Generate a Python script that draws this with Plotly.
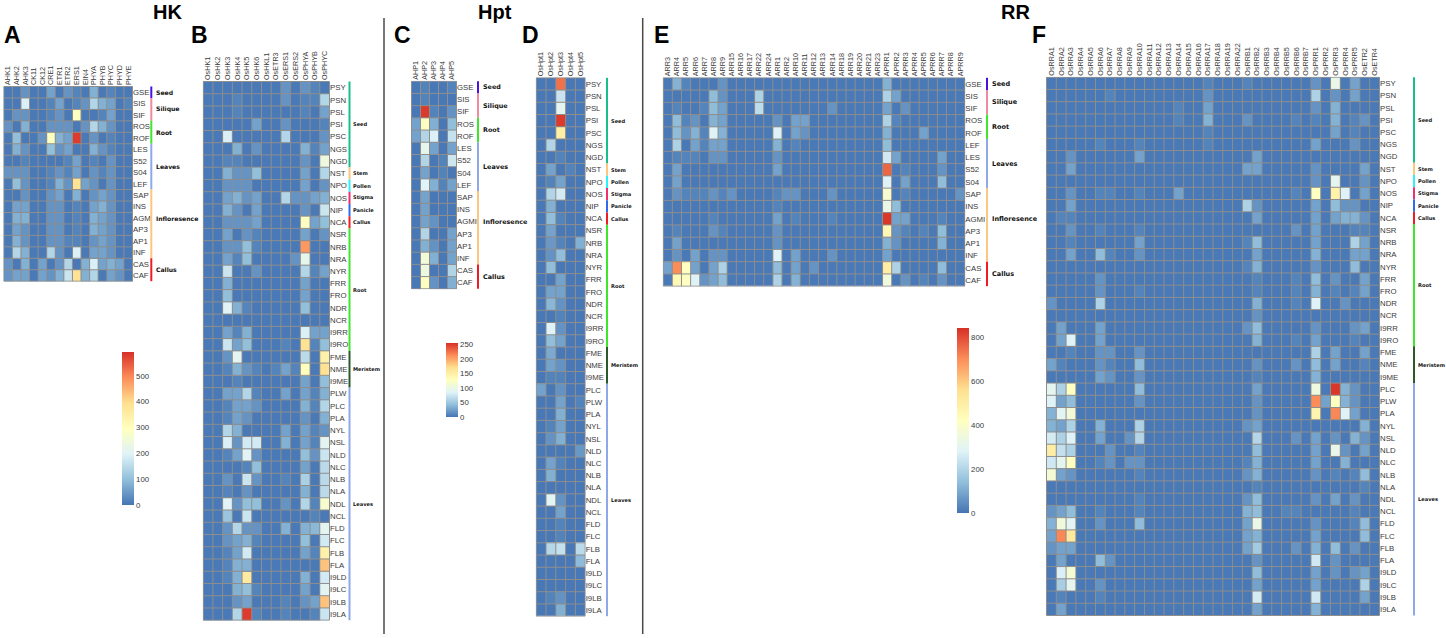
import plotly.graph_objects as go

W, H = 1446, 638

# ---------- labels ----------
TISSUE_ATH = ["GSE","SIS","SIF","ROS","ROF","LES","S52","S04","LEF","SAP","INS","AGM","AP3","AP1","INF","CAS","CAF"]
TISSUE_ATH_C = ["GSE","SIS","SIF","ROS","ROF","LES","S52","S04","LEF","SAP","INS","AGMI","AP3","AP1","INF","CAS","CAF"]
TISSUE_ATH_E = ["GSE","SIS","SIF","ROS","ROF","LEF","LES","S52","S04","SAP","INS","AGMI","AP3","AP1","INF","CAS","CAF"]
TISSUE_OS_B = ["PSY","PSN","PSL","PSI","PSC","NGS","NGD","NST","NPO","NOS","NIP","NCA","NSR","NRB","NRA","NYR","FRR","FRO","NDR","NCR","I9RR","I9RO","FME","NME","I9ME","PLW","PLC","PLA","NYL","NSL","NLD","NLC","NLB","NLA","NDL","NCL","FLD","FLC","FLB","FLA","I9LD","I9LC","I9LB","I9LA"]
TISSUE_OS_D = ["PSY","PSN","PSL","PSI","PSC","NGS","NGD","NST","NPO","NOS","NIP","NCA","NSR","NRB","NRA","NYR","FRR","FRO","NDR","NCR","I9RR","I9RO","FME","NME","I9ME","PLC","PLW","PLA","NYL","NSL","NLD","NLC","NLB","NLA","NDL","NCL","FLD","FLC","FLB","FLA","I9LD","I9LC","I9LB","I9LA"]

GENES_A = ["AHK1","AHK2","AHK3","CK11","CK12","CRE1","ETR1","ETR2","ERS1","EIN4","PHYA","PHYB","PHYC","PHYD","PHYE"]
GENES_B = ["OsHK1","OsHK2","OsHK3","OsHK4","OsHK5","OsHK6","OsHKL1","OsETR3","OsERS1","OsERS2","OsPHYA","OsPHYB","OsPHYC"]
GENES_C = ["AHP1","AHP2","AHP3","AHP4","AHP5"]
GENES_D = ["OsHpt1","OsHpt2","OsHpt3","OsHpt4","OsHpt5"]
GENES_E = ["ARR3","ARR4","ARR5","ARR6","ARR7","ARR8","ARR9","ARR15","ARR16","ARR17","ARR22","ARR24","ARR1","ARR2","ARR10","ARR11","ARR12","ARR13","ARR14","ARR18","ARR19","ARR20","ARR21","ARR23","APRR1","APRR2","APRR3","APRR4","APRR5","APRR6","APRR7","APRR8","APRR9"]
GENES_F = ["OsRRA1","OsRRA2","OsRRA3","OsRRA4","OsRRA5","OsRRA6","OsRRA7","OsRRA8","OsRRA9","OsRRA10","OsRRA11","OsRRA12","OsRRA13","OsRRA14","OsRRA15","OsRRA16","OsRRA17","OsRRA18","OsRRA19","OsRRA22","OsRRB1","OsRRB2","OsRRB3","OsRRB4","OsRRB5","OsRRB6","OsRRB7","OsPRR1","OsPRR2","OsPRR3","OsPRR4","OsPRR5","OsETR2","OsETR4"]

# ---------- values ----------
VALUES_A = [
 [5,5,40,5,5,60,5,40,20,5,80,5,20,5,5],
 [5,5,190,5,5,20,60,5,20,40,140,80,60,5,20],
 [5,40,40,5,5,20,40,5,290,5,5,20,60,5,5],
 [40,5,80,5,5,40,40,40,5,40,140,80,40,5,5],
 [5,100,5,5,40,290,80,60,580,5,40,5,20,5,5],
 [5,80,40,5,5,100,40,60,5,5,80,40,20,5,5],
 [5,5,20,5,5,5,5,20,60,5,20,5,40,5,5],
 [40,40,40,5,5,20,40,20,60,5,40,20,40,5,5],
 [5,100,40,5,5,20,80,40,385,60,40,5,40,5,5],
 [5,5,40,5,5,40,60,5,80,5,40,60,40,5,5],
 [5,60,60,5,5,40,40,5,20,5,60,80,40,5,5],
 [5,80,80,5,5,40,40,5,20,5,80,60,40,5,5],
 [5,60,40,5,5,40,40,5,20,5,80,60,40,5,5],
 [5,80,40,5,5,40,40,20,20,5,40,60,40,5,5],
 [5,140,80,5,5,140,40,5,190,5,60,60,40,5,5],
 [40,5,80,5,60,5,40,140,5,80,190,60,80,60,5],
 [40,60,60,5,60,40,80,170,385,80,140,5,60,40,5],
]
VALUES_B = [
 [5,5,5,5,5,5,5,5,40,5,40,20,5],
 [5,5,5,20,5,5,5,5,40,5,20,20,140],
 [5,5,5,20,5,5,5,5,5,5,20,5,60],
 [5,5,5,5,5,60,5,5,40,5,5,5,20],
 [5,5,190,5,5,5,5,5,140,5,5,5,40],
 [5,5,5,80,5,40,5,5,5,5,80,20,60],
 [5,5,20,20,5,5,5,5,5,5,40,5,240],
 [5,5,80,40,40,100,5,5,5,5,60,5,140],
 [5,5,40,40,40,5,5,5,5,5,60,5,40],
 [5,5,60,80,40,60,5,5,140,40,40,60,80],
 [5,5,80,40,5,60,5,5,5,5,40,5,170],
 [5,5,40,40,40,60,5,5,5,5,290,60,100],
 [5,5,60,5,40,20,5,5,5,5,60,5,40],
 [5,5,40,40,100,20,5,5,5,5,480,5,5],
 [5,5,60,20,100,5,5,5,5,40,220,5,5],
 [5,5,170,5,5,40,5,5,5,5,140,20,60],
 [5,5,80,5,5,5,5,5,5,5,60,5,5],
 [5,5,100,5,5,5,5,5,5,5,60,5,5],
 [5,5,200,80,20,5,5,5,5,5,100,5,5],
 [5,5,5,5,5,5,5,5,5,5,5,5,5],
 [5,5,60,20,80,5,5,5,5,5,190,60,60],
 [5,5,170,60,100,5,5,5,20,5,385,20,100],
 [5,5,40,210,5,5,5,5,5,5,150,5,340],
 [5,5,20,80,40,20,5,20,60,20,300,5,385],
 [5,5,5,20,5,5,5,5,5,5,60,5,100],
 [5,5,60,60,140,20,5,5,60,5,60,20,80],
 [5,5,20,60,60,40,5,5,5,5,80,20,140],
 [5,5,20,60,40,5,5,5,5,5,40,5,80],
 [5,5,140,80,5,5,5,5,60,5,60,20,40],
 [5,5,190,40,180,180,5,5,80,5,60,20,210],
 [5,5,20,60,200,40,5,5,5,5,100,40,170],
 [5,5,5,5,20,100,5,5,5,5,60,5,150],
 [5,5,40,5,170,40,5,5,20,5,130,5,150],
 [5,5,20,5,40,5,5,5,5,5,80,5,150],
 [5,5,200,40,100,100,5,5,40,5,140,20,270],
 [5,5,110,5,170,5,5,5,5,5,5,20,5],
 [5,5,40,140,40,40,5,5,80,5,80,90,210],
 [5,5,40,60,80,20,5,5,5,5,100,5,180],
 [5,5,20,60,180,5,5,5,5,5,60,20,340],
 [5,5,20,80,80,5,5,5,5,5,5,5,430],
 [5,5,20,80,360,5,5,5,5,5,80,5,180],
 [5,5,5,80,100,20,5,5,5,5,60,5,210],
 [5,5,5,40,60,5,5,5,20,5,40,60,430],
 [5,5,5,140,580,20,5,5,20,5,5,20,170],
]
VALUES_C = [
 [2,8,2,2,8],
 [2,8,2,2,2],
 [2,250,8,2,17],
 [26,125,34,2,42],
 [26,60,83,2,70],
 [2,95,26,2,26],
 [2,60,2,8,75],
 [2,26,2,8,2],
 [2,85,34,8,26],
 [2,26,2,2,2],
 [2,26,2,2,2],
 [2,26,17,2,2],
 [2,60,2,2,26],
 [2,34,17,2,26],
 [2,110,34,2,26],
 [2,104,2,2,60],
 [2,125,17,2,34],
]
VALUES_D = [
 [2,2,225,2,2],
 [2,2,72,2,2],
 [2,2,90,2,2],
 [2,2,250,2,2],
 [2,2,150,2,2],
 [2,60,2,2,2],
 [2,2,8,2,2],
 [2,26,2,8,2],
 [2,8,26,2,2],
 [2,60,78,2,2],
 [2,34,2,2,2],
 [2,42,8,2,2],
 [2,26,2,2,2],
 [2,20,8,2,34],
 [2,17,42,2,2],
 [2,42,2,2,2],
 [2,2,26,2,2],
 [2,26,26,2,2],
 [2,38,17,2,2],
 [2,2,8,2,2],
 [2,85,17,2,2],
 [2,42,26,2,2],
 [2,30,2,2,2],
 [2,26,17,2,2],
 [2,8,8,2,2],
 [26,2,17,2,2],
 [2,2,26,2,8],
 [2,2,34,2,2],
 [2,8,26,2,2],
 [2,17,34,2,2],
 [2,2,2,2,20],
 [2,26,8,2,2],
 [2,34,2,2,2],
 [2,2,2,2,2],
 [2,88,17,2,2],
 [2,2,26,2,2],
 [2,2,8,2,2],
 [2,2,8,2,2],
 [2,62,70,2,65],
 [2,2,2,2,40],
 [2,2,2,2,2],
 [2,2,2,2,2],
 [2,8,17,2,2],
 [2,2,34,2,2],
]
VALUES_E = [
 [7,115,28,7,7,7,57,7,7,7,7,7, 7,7,7,7,7,7,7,7,7,7,7,7, 115,7,7,7,7,7,7,7,7],
 [7,7,7,7,7,138,57,7,7,7,190,7, 7,7,7,7,7,7,7,7,7,7,7,7, 190,85,7,7,7,7,7,7,7],
 [7,28,7,7,28,138,85,7,7,7,220,7, 7,7,7,7,7,7,57,7,7,7,7,7, 85,7,57,7,7,7,7,7,7],
 [7,138,28,57,7,115,85,7,7,7,7,7, 57,7,85,85,7,7,7,7,7,7,7,7, 190,28,7,7,7,7,7,7,7],
 [7,138,57,115,28,277,115,7,7,7,7,7, 277,7,85,57,7,7,7,7,7,7,7,7, 115,7,7,7,85,7,7,7,7],
 [7,190,7,85,28,85,85,7,7,7,7,7, 115,7,28,7,7,7,7,7,7,7,7,7, 138,7,7,7,7,7,7,7,7],
 [7,28,28,28,7,57,57,7,7,7,7,7, 57,7,7,7,7,7,7,7,7,7,7,7, 250,85,7,7,7,7,85,7,7],
 [7,85,7,7,7,7,7,7,7,7,7,7, 85,7,7,7,7,7,7,7,7,7,7,7, 760,7,28,7,7,7,57,7,7],
 [7,85,7,7,7,7,7,7,7,7,7,7, 7,7,7,7,7,7,7,7,7,7,7,7, 277,7,85,7,7,7,138,7,7],
 [7,57,28,28,28,57,28,57,7,7,7,7, 28,57,57,7,7,7,57,7,7,7,7,7, 380,7,28,7,7,7,7,7,57],
 [7,7,7,7,7,7,7,7,7,7,7,7, 28,7,7,7,7,7,7,7,7,7,7,7, 320,138,7,7,7,7,7,7,7],
 [7,7,7,7,7,28,7,7,7,7,7,7, 85,7,28,7,7,7,28,7,7,7,7,7, 830,85,85,7,7,7,28,7,7],
 [7,28,7,7,7,57,28,7,7,7,7,7, 57,7,7,7,7,7,7,7,7,7,7,7, 450,57,28,7,28,7,138,7,7],
 [7,85,7,7,7,7,7,7,7,7,7,7, 57,7,7,7,7,7,7,7,7,7,7,7, 115,57,7,7,7,7,115,7,7],
 [7,57,7,85,7,57,57,7,7,7,7,7, 277,7,85,7,7,7,57,7,7,7,7,7, 85,7,7,7,7,7,7,7,7],
 [85,700,415,85,7,85,190,7,7,7,7,7, 138,7,85,7,57,7,7,7,7,7,7,7, 500,190,7,7,7,7,138,7,7],
 [7,450,415,277,57,85,138,7,7,7,7,7, 190,7,115,7,7,7,7,7,7,7,7,7, 345,7,57,7,28,7,57,7,7],
]
VALUES_F = [
 [7,7,7,7,7,7,7,7,7,7, 7,7,7,7,7,7,28,7,7,7, 28,7,7,7,7,7,7, 57,7,320,7,85,7,7],
 [7,7,7,7,7,7,28,7,7,7, 7,7,7,7,7,7,57,7,7,7, 7,7,7,7,7,7,7, 190,7,57,7,85,7,7],
 [7,7,7,7,7,7,7,7,7,7, 7,7,7,28,7,7,85,7,7,7, 7,7,7,7,7,7,7, 57,7,115,7,7,7,7],
 [7,7,7,7,7,7,7,7,7,7, 7,7,7,28,7,7,115,7,7,7, 57,7,7,7,7,28,7, 28,7,115,7,28,57,7],
 [7,7,7,7,7,7,7,7,7,7, 7,7,7,7,7,7,28,7,7,7, 7,7,7,7,7,7,7, 7,7,85,7,28,7,7],
 [7,7,7,7,7,28,7,7,7,28, 7,7,7,7,7,7,28,7,7,7, 7,7,7,7,7,7,7, 85,7,7,7,57,7,7],
 [7,7,57,7,7,7,7,7,7,85, 7,7,7,7,7,7,7,7,7,7, 7,85,7,7,7,7,7, 7,7,7,7,7,7,7],
 [7,7,85,7,7,7,7,7,7,7, 7,7,7,7,7,7,7,7,7,7, 85,85,7,7,7,7,7, 57,7,7,7,7,85,7],
 [7,7,7,7,7,7,7,7,7,7, 7,7,7,7,7,7,7,7,7,7, 7,7,7,7,7,7,7, 57,7,300,7,7,57,7],
 [7,7,57,7,7,28,28,7,7,28, 7,7,7,85,7,7,7,7,7,7, 7,7,7,7,7,28,7, 415,7,480,277,7,85,7],
 [7,7,85,7,7,7,7,7,7,7, 7,7,7,7,7,7,7,7,7,7, 190,57,7,7,7,7,7, 85,7,138,57,57,7,7],
 [7,28,28,7,7,7,7,7,7,7, 7,7,7,7,7,7,7,7,7,7, 7,85,7,7,7,7,7, 85,7,85,115,115,57,7],
 [7,7,57,7,7,28,7,7,7,28, 7,7,7,7,7,7,7,7,7,7, 7,7,7,7,7,57,7, 85,7,7,7,28,28,7],
 [7,7,28,7,7,7,7,7,7,85, 7,7,7,7,7,7,7,7,7,7, 28,138,7,7,7,7,7, 85,7,7,7,190,85,7],
 [7,7,85,7,7,138,28,7,7,57, 7,7,7,7,7,7,7,7,7,7, 7,85,7,7,7,7,7, 115,7,7,7,85,85,7],
 [7,7,7,7,7,7,7,7,7,7, 7,7,7,7,7,7,7,7,7,7, 28,115,7,7,7,7,7, 57,7,7,7,138,7,7],
 [7,7,7,7,7,57,7,7,7,7, 7,7,7,7,7,7,7,7,7,7, 7,28,7,7,7,28,7, 138,7,57,7,7,85,7],
 [7,7,7,7,7,57,7,7,7,28, 7,7,7,7,7,7,7,7,7,7, 7,28,7,7,7,28,7, 115,7,28,7,28,85,7],
 [57,7,7,7,7,190,7,7,7,7, 7,7,7,7,7,7,7,7,7,7, 7,115,7,7,7,28,7, 277,7,7,57,7,7,7],
 [7,7,7,7,7,7,7,7,7,7, 7,7,7,7,7,7,7,7,7,7, 7,57,7,7,7,7,7, 7,7,7,7,7,7,7],
 [7,85,7,7,7,85,7,7,7,7, 7,7,7,7,7,7,7,7,7,7, 57,138,7,7,7,7,7, 57,7,7,7,57,85,7],
 [7,85,277,7,7,85,7,7,7,7, 7,7,7,7,7,7,7,7,7,7, 7,115,7,7,7,28,7, 85,7,7,7,28,7,7],
 [7,7,28,7,7,57,57,7,7,57, 7,7,7,7,7,7,7,7,7,7, 7,7,7,7,7,7,7, 190,7,85,7,7,85,7],
 [85,28,7,7,7,57,28,7,7,138, 7,7,7,7,7,7,7,7,7,7, 7,57,7,7,7,57,7, 138,7,85,7,7,28,7],
 [7,7,7,7,7,85,57,7,7,57, 7,7,7,7,7,7,7,7,7,7, 7,28,7,7,7,7,7, 115,7,7,7,7,7,7],
 [300,190,415,7,7,7,7,7,7,138, 7,7,7,7,7,7,7,7,7,7, 7,85,7,7,7,7,7, 345,7,830,115,57,7,7],
 [277,85,138,7,7,7,7,7,7,57, 7,7,7,7,7,7,7,7,7,7, 7,57,7,7,7,7,7, 700,85,415,115,57,7,7],
 [115,290,360,7,7,7,7,7,7,7, 7,7,7,7,7,7,7,7,7,7, 7,57,7,7,7,7,7, 470,7,710,277,85,7,7],
 [115,85,190,7,7,115,7,7,7,190, 7,7,7,7,7,7,7,7,7,7, 57,85,7,7,7,7,7, 7,7,7,7,7,115,7],
 [260,190,277,7,7,85,7,7,57,200, 7,7,7,7,7,7,7,7,7,7, 7,200,7,7,7,57,7, 85,7,57,7,115,57,7],
 [500,230,190,7,7,7,57,7,7,28, 7,7,7,7,7,7,7,7,7,7, 7,138,7,7,7,7,7, 85,7,320,57,7,85,7],
 [250,300,415,7,7,28,57,7,57,57, 7,7,7,7,7,7,7,7,7,7, 28,115,7,7,7,7,7, 85,7,7,115,7,7,7],
 [370,85,57,7,7,7,7,7,7,28, 7,7,7,7,7,7,7,7,7,7, 57,115,7,7,7,7,7, 57,7,28,7,28,138,7],
 [7,7,7,7,7,7,7,7,7,7, 7,7,7,7,7,7,7,7,7,7, 7,28,7,7,7,7,7, 7,7,7,7,7,28,7],
 [7,7,7,7,7,7,7,7,7,28, 7,7,7,7,7,7,7,7,7,7, 57,138,7,7,7,7,7, 57,7,85,7,57,7,7],
 [57,85,138,7,7,28,7,7,7,28, 7,7,7,7,7,7,7,7,7,7, 115,138,7,7,28,28,7, 7,7,7,7,28,7,7],
 [115,350,290,7,7,57,7,7,7,138, 7,7,7,7,7,7,7,7,7,7, 85,320,7,7,7,7,7, 57,7,7,7,28,138,7],
 [85,710,520,7,7,7,7,7,7,7, 7,7,7,7,7,7,7,7,7,7, 85,115,7,7,7,7,7, 85,7,7,7,7,138,7],
 [57,85,85,7,7,7,7,7,7,7, 7,7,7,7,7,7,7,7,7,7, 85,170,7,7,7,57,7, 115,7,138,7,57,7,7],
 [7,85,7,7,7,138,57,7,7,7, 7,7,7,7,7,7,7,7,7,7, 7,57,7,7,7,7,7, 250,7,57,7,7,7,7],
 [7,270,370,7,7,7,7,7,7,7, 7,7,7,7,7,7,7,7,7,7, 7,138,7,7,7,7,7, 85,7,57,7,57,85,7],
 [7,180,300,7,7,57,7,7,7,7, 7,7,7,7,7,7,7,7,7,7, 7,85,7,7,7,7,7, 85,7,7,7,7,190,7],
 [7,28,7,7,7,28,7,7,7,7, 7,7,7,7,7,7,7,7,7,7, 7,260,7,7,7,7,7, 250,7,7,7,7,85,7],
 [7,85,7,7,7,7,7,7,7,7, 7,7,7,7,7,7,7,7,7,7, 7,85,7,7,7,7,7, 115,7,7,7,7,7,7],
]

# tissue groups (name, number of rows)
GROUP_NAMES_ATH = ["Seed","Silique","Root","Leaves","Infloresence","Callus"]
GROUP_SIZES_ATH = [1,2,2,4,6,2]
GROUP_NAMES_OS = ["Seed","Stem","Pollen","Stigma","Panicle","Callus","Root","Meristem","Leaves"]
GROUP_SIZES_OS = [7,1,1,1,1,1,10,3,19]

COLORBAR_TICKS_HK = [0,100,200,300,400,500]
COLORBAR_TICKS_HPT = [0,50,100,150,200,250]
COLORBAR_TICKS_RR = [0,200,400,600,800]

# ---------- styles ----------
COLORSCALE = [[0,"#4575b4"],[1/6,"#91bfdb"],[2/6,"#e0f3f8"],[0.5,"#ffffbf"],[4/6,"#fee090"],[5/6,"#fc8d59"],[1,"#d73027"]]
GROUP_COLOURS_ATH = ["#4a10e0","#f08a9e","#3fe62c","#8fa8ea","#fdc67e","#ee1c25"]
GROUP_COLOURS_OS = ["#17bf8a","#fdc67e","#2ff0f5","#f0306e","#2d6cf0","#ee1c25","#3fe62c","#2a5a2a","#8fa8ea"]
GRID = "#8e8e8e"
SANS = "Liberation Sans"

# per panel geometry in page pixels: x0,x1,y0,y1,bar x,label x,label size
PANELS = [
 (GENES_A, TISSUE_ATH,   VALUES_A, 3.3, 133, 86, 281.7, 150.3, 153.5, 6.1, 1, "ath"),
 (GENES_B, TISSUE_OS_B,  VALUES_B, 202.7, 330, 81, 620.7, 348.5, 351, 5.1, 1, "os"),
 (GENES_C, TISSUE_ATH_C, VALUES_C, 411, 457, 80.7, 289.3, 477, 481, 6.4, 2, "ath"),
 (GENES_D, TISSUE_OS_D,  VALUES_D, 535.7, 585.7, 77.3, 616.7, 606, 608.7, 5.1, 2, "os"),
 (GENES_E, TISSUE_ATH_E, VALUES_E, 662.7, 965.3, 77.3, 286.7, 986, 990, 6.5, 3, "ath"),
 (GENES_F, TISSUE_OS_D,  VALUES_F, 1046, 1380, 76.7, 616, 1413, 1415.7, 5.1, 3, "os"),
]

def px(x):
    return x / W

def py(y):
    return 1 - y / H

fig = go.Figure()
layout = {}
shapes = []
annotations = []

for i, (genes, tissues, values, x0, x1, y0, y1, bar_x, lab_x, lab_size, caxis, kind) in enumerate(PANELS, 1):
    assert len(values) == len(tissues) and all(len(r) == len(genes) for r in values)
    suffix = "" if i == 1 else str(i)
    fig.add_trace(go.Heatmap(z=values, x=genes, y=tissues, xaxis="x" + suffix, yaxis="y" + suffix,
                             coloraxis="coloraxis" + ("" if caxis == 1 else str(caxis)), hoverinfo="skip"))
    layout["xaxis" + suffix] = dict(domain=[px(x0), px(x1)], anchor="y" + suffix, side="top", type="category",
                                    tickmode="array", tickvals=genes, ticktext=genes, tickangle=-90,
                                    tickfont=dict(family=SANS, size=7.2, color="#3a3a3a"), ticks="",
                                    showgrid=False, zeroline=False, showline=False, automargin=False)
    layout["yaxis" + suffix] = dict(domain=[py(y1), py(y0)], anchor="x" + suffix, side="right", type="category",
                                    autorange="reversed", tickmode="array", tickvals=tissues, ticktext=tissues,
                                    tickfont=dict(family=SANS, size=7.8, color="#3a3a3a"), ticks="", ticklabelstandoff=-1,
                                    showgrid=False, zeroline=False, showline=False, automargin=False)
    # cell borders, one line per category boundary
    for k in range(len(genes) + 1):
        shapes.append(dict(type="line", xref="x" + suffix, yref="y" + suffix, x0=k - 0.5, x1=k - 0.5,
                           y0=-0.5, y1=len(tissues) - 0.5, line=dict(color=GRID, width=1), layer="above"))
    for k in range(len(tissues) + 1):
        shapes.append(dict(type="line", xref="x" + suffix, yref="y" + suffix, y0=k - 0.5, y1=k - 0.5,
                           x0=-0.5, x1=len(genes) - 0.5, line=dict(color=GRID, width=1), layer="above"))
    names = GROUP_NAMES_ATH if kind == "ath" else GROUP_NAMES_OS
    sizes = GROUP_SIZES_ATH if kind == "ath" else GROUP_SIZES_OS
    colours = GROUP_COLOURS_ATH if kind == "ath" else GROUP_COLOURS_OS
    start = 0
    for name, size, colour in zip(names, sizes, colours):
        shapes.append(dict(type="rect", xref="paper", x0=px(bar_x), x1=px(bar_x + 2),
                           yref="y" + suffix, y0=start - 0.5, y1=start + size - 0.5,
                           fillcolor=colour, line=dict(width=0), layer="above"))
        centre = start + (size - 1) / 2
        if name == "Infloresence":
            centre -= 0.5
        annotations.append(dict(text="<b>%s</b>" % name, xref="paper", x=px(lab_x), xanchor="left",
                                yref="y" + suffix, y=centre, yanchor="middle", showarrow=False,
                                font=dict(family="DejaVu Sans", size=lab_size, color="#111")))
        start += size

def colorbar(ticks, x, top, bottom):
    return dict(thickness=12, thicknessmode="pixels", len=bottom - top, lenmode="pixels",
                x=px(x), xanchor="left", xpad=0, y=py(bottom), yanchor="bottom", ypad=0,
                outlinewidth=0, ticks="", tickmode="array", tickvals=ticks, ticktext=[str(t) for t in ticks],
                tickfont=dict(family=SANS, size=7.8, color="#3a3a3a"))

layout["coloraxis"] = dict(colorscale=COLORSCALE, cmin=0, cmax=592, colorbar=colorbar(COLORBAR_TICKS_HK, 122, 352, 505))
layout["coloraxis2"] = dict(colorscale=COLORSCALE, cmin=0, cmax=255, colorbar=colorbar(COLORBAR_TICKS_HPT, 446, 343, 417))
layout["coloraxis3"] = dict(colorscale=COLORSCALE, cmin=0, cmax=841, colorbar=colorbar(COLORBAR_TICKS_RR, 957, 328, 513))

for sep_x in (384, 642.7):
    shapes.append(dict(type="line", xref="paper", yref="paper", x0=px(sep_x), x1=px(sep_x), y0=py(18), y1=py(634),
                       line=dict(color="#4a4a4a", width=1.5)))

for text, x in [("HK", 151.5), ("Hpt", 476.5), ("RR", 999.5)]:
    annotations.append(dict(text="<b>%s</b>" % text, xref="paper", yref="paper", x=px(x), y=1,
                            xanchor="left", yanchor="top", showarrow=False, borderpad=0,
                            font=dict(family=SANS, size=20, color="#000")))
for text, x, y in [("A", 2, 35), ("B", 188.5, 35), ("C", 391.5, 35), ("D", 519.5, 35), ("E", 651.5, 35), ("F", 1029.5, 35)]:
    annotations.append(dict(text="<b>%s</b>" % text, xref="paper", yref="paper", x=px(x), y=py(y),
                            xanchor="left", yanchor="middle", showarrow=False,
                            font=dict(family=SANS, size=23, color="#000")))

fig.update_layout(width=W, height=H, margin=dict(l=0, r=0, t=0, b=0), paper_bgcolor="white", plot_bgcolor="white",
                  showlegend=False, shapes=shapes, annotations=annotations, **layout)
fig.write_html("out.html", config={"displayModeBar": False}, post_script="document.body.style.margin='0';")
